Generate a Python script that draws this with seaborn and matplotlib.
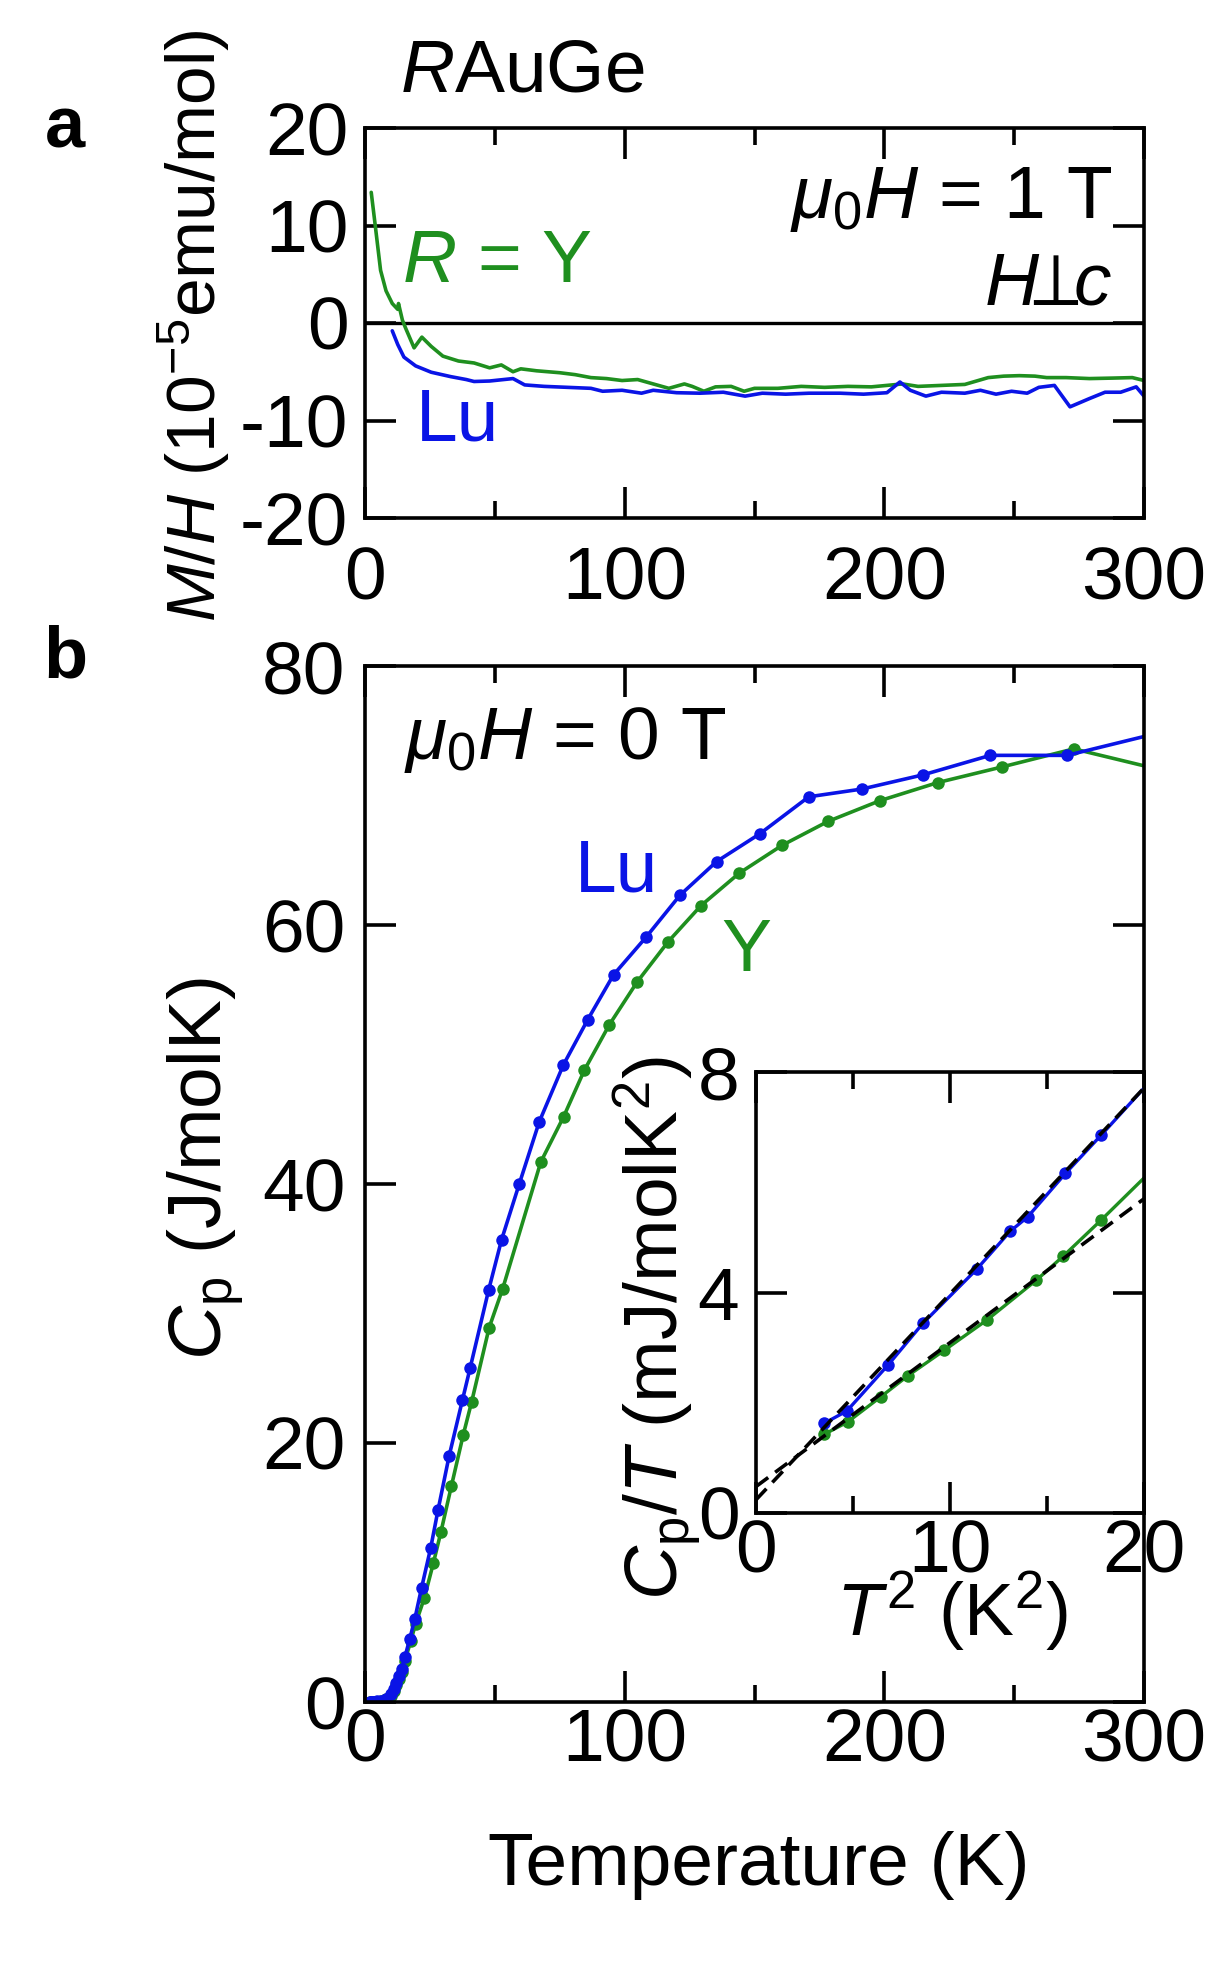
import numpy as np
import pandas as pd
import seaborn as sns
import matplotlib.pyplot as plt
from matplotlib.ticker import MultipleLocator

# ---- panel a : M/H vs T (mu0H = 1 T, H perp c)
y_mh_T = [2.4, 3.9, 6, 8.1, 10.5, 12.6, 12.9, 14.4, 15.6, 18.9, 21.9, 25.5, 30, 36, 42, 48,
          52.5, 57, 60, 66, 75, 81, 87, 93, 99, 105, 111, 117, 123, 126, 130.5, 135, 141,
          146, 150, 159, 168, 177, 186, 195, 201, 207, 213, 222, 231, 235.5, 240, 246, 252,
          258, 262.5, 270, 279, 288, 295.5, 300]
y_mh = [13.4, 10.1, 5.4, 3.3, 2.0, 1.4, 2.0, 0.3, -0.5, -2.55, -1.45, -2.4, -3.4, -3.9, -4.1,
        -4.6, -4.3, -5.0, -4.7, -4.9, -5.1, -5.3, -5.6, -5.7, -5.9, -5.8, -6.25, -6.7, -6.25,
        -6.5, -7.0, -6.55, -6.5, -7.0, -6.7, -6.7, -6.5, -6.6, -6.5, -6.55, -6.4, -6.25, -6.5,
        -6.4, -6.3, -5.95, -5.6, -5.45, -5.4, -5.45, -5.6, -5.6, -5.7, -5.65, -5.6, -5.9]

lu_mh_T = [10.5, 12.6, 15, 19.5, 25.5, 33, 39, 42, 48, 57, 61.5, 69, 78, 87, 91.5, 99, 106.5,
           111, 120, 129, 138, 146.4, 153, 162, 171, 183, 192, 201, 206, 210, 216, 222, 231,
           237, 243, 249, 255, 259.5, 265.5, 271.5, 279, 285, 291, 297, 300]
lu_mh = [-0.8, -2.2, -3.5, -4.4, -5.05, -5.5, -5.8, -6.0, -5.95, -5.7, -6.35, -6.5, -6.6, -6.7,
         -7.0, -6.9, -7.2, -6.9, -7.15, -7.2, -7.1, -7.5, -7.2, -7.3, -7.2, -7.2, -7.3, -7.15,
         -6.05, -6.9, -7.5, -7.1, -7.2, -6.9, -7.3, -7.0, -7.2, -6.6, -6.4, -8.6, -7.75, -7.1,
         -7.1, -6.55, -7.5]

# ---- panel b : Cp vs T (mu0H = 0 T)
lu_cp_T = [1.88, 2.16, 2.61, 2.93, 3.37, 3.62, 3.74, 3.99, 4.22, 4.8, 6.0, 7.9, 9.9, 11.2, 12.1,
           13.1, 14.1, 15.4, 17.2, 19.2, 21.8, 25.3, 28.1, 32.4, 37.5, 40.5, 47.6, 52.6, 59.4,
           67.1, 76.4, 85.8, 95.7, 108.2, 121.3, 135.4, 152.1, 170.9, 191.4, 215, 240.8,
           270.4, 305]
lu_cp = [0.003, 0.004, 0.007, 0.010, 0.015, 0.019, 0.020, 0.025, 0.029, 0.04, 0.08, 0.26, 0.6,
         0.98, 1.5, 2.0, 2.57, 3.5, 4.84, 6.43, 8.83, 11.9, 14.8, 19.0, 23.3, 25.8, 31.8, 35.7,
         40.0, 44.8, 49.2, 52.7, 56.15, 59.05, 62.3, 64.9, 67.05, 69.9, 70.5, 71.6, 73.1,
         73.1, 74.8]

y_cp_T = [1.88, 2.17, 2.54, 2.80, 3.11, 3.45, 3.80, 3.98, 4.22, 6.0, 7.9, 9.9, 11.2, 12.1, 13.1,
          14.1, 15.4, 17.6, 19.5, 22.8, 26.3, 29.2, 33.3, 37.8, 41.1, 47.8, 53.0, 67.7, 76.5,
          84.5, 94.1, 104.8, 116.7, 129.4, 144.1, 160.6, 178.3, 198.3, 220.6, 245.2, 273, 305]
y_cp = [0.0027, 0.0036, 0.0054, 0.007, 0.0092, 0.012, 0.016, 0.0185, 0.0224, 0.07, 0.22, 0.5,
        0.85, 1.3, 1.8, 2.3, 3.2, 4.7, 6.05, 8.0, 10.7, 13.1, 16.7, 20.6, 23.2, 28.9, 31.9,
        41.7, 45.2, 48.8, 52.3, 55.6, 58.7, 61.5, 64.0, 66.15, 68.0, 69.6, 71.0, 72.2, 73.6,
        72.05]

# ---- inset : Cp/T vs T^2
lu_T2 = [3.53, 4.68, 6.82, 8.6, 11.37, 13.1, 14.0, 15.95, 17.78, 20.5]
lu_cpt = [1.63, 1.85, 2.69, 3.44, 4.42, 5.11, 5.37, 6.16, 6.85, 7.9]
y_T2 = [3.53, 4.72, 6.44, 7.83, 9.7, 11.9, 14.44, 15.84, 17.78, 20.5]
y_cpt = [1.43, 1.65, 2.11, 2.49, 2.95, 3.50, 4.22, 4.66, 5.31, 6.25]

fit_T2 = [0, 20]
lu_fit = [0.24, 7.71]
y_fit = [0.48, 5.70]

BLUE = "#0a14e6"
GREEN = "#1f8f1f"
FS = 54

sns.set_style("ticks")
plt.rcParams["font.family"] = ["Liberation Sans", "DejaVu Sans"]
plt.rcParams["mathtext.fontset"] = "custom"
plt.rcParams["mathtext.rm"] = "Liberation Sans"
plt.rcParams["mathtext.it"] = "Liberation Sans:italic"
plt.rcParams["mathtext.bf"] = "Liberation Sans:bold"
plt.rcParams["axes.unicode_minus"] = False
plt.rcParams["text.color"] = "black"
plt.rcParams["axes.linewidth"] = 2.6
plt.rcParams["axes.edgecolor"] = "black"

W, H = 1221, 1962
fig = plt.figure(figsize=(W / 100, H / 100), dpi=100)


def box(l, t, r, b):
    return [l / W, 1 - b / H, (r - l) / W, (b - t) / H]


def fxy(x, y):
    return x / W, 1 - y / H


def style(ax, xpad, ypad):
    ax.tick_params(which="both", direction="in", top=True, right=True,
                   labelsize=FS, width=2.6, color="black", labelcolor="black")
    ax.tick_params(which="major", length=22)
    ax.tick_params(which="minor", length=12)
    ax.tick_params(axis="x", pad=xpad)
    ax.tick_params(axis="y", pad=ypad)
    for s in ax.spines.values():
        s.set_linewidth(2.6)
        s.set_visible(True)
    ax.set_xlabel("")
    ax.set_ylabel("")


# panel a
ax_a = fig.add_axes(box(365, 128, 1144, 518))
ax_a.axhline(0, color="black", lw=2.4, zorder=1)
sns.lineplot(x=y_mh_T, y=y_mh, color=GREEN, lw=2.6, sort=False, ax=ax_a)
sns.lineplot(x=lu_mh_T, y=lu_mh, color=BLUE, lw=2.6, sort=False, ax=ax_a)
ax_a.set_xlim(0, 300)
ax_a.set_ylim(-20, 20)
ax_a.xaxis.set_major_locator(MultipleLocator(100))
ax_a.xaxis.set_minor_locator(MultipleLocator(50))
ax_a.yaxis.set_major_locator(MultipleLocator(10))
style(ax_a, 20, 12)

# panel b
ax_b = fig.add_axes(box(365, 666, 1144, 1702))
sns.lineplot(x=y_cp_T, y=y_cp, color=GREEN, lw=2.6, marker="o", markersize=9,
             markeredgewidth=0, sort=False, ax=ax_b)
sns.lineplot(x=lu_cp_T, y=lu_cp, color=BLUE, lw=2.6, marker="o", markersize=9,
             markeredgewidth=0, sort=False, ax=ax_b)
ax_b.set_xlim(0, 300)
ax_b.set_ylim(0, 80)
ax_b.xaxis.set_major_locator(MultipleLocator(100))
ax_b.xaxis.set_minor_locator(MultipleLocator(50))
ax_b.yaxis.set_major_locator(MultipleLocator(20))
style(ax_b, 4, 14)

# inset
ax_i = fig.add_axes(box(756, 1072, 1144, 1513))
sns.lineplot(x=y_T2, y=y_cpt, color=GREEN, lw=2.4, marker="o", markersize=9,
             markeredgewidth=0, sort=False, ax=ax_i)
sns.lineplot(x=lu_T2, y=lu_cpt, color=BLUE, lw=2.4, marker="o", markersize=9,
             markeredgewidth=0, sort=False, ax=ax_i)
ax_i.plot(fit_T2, lu_fit, color="black", lw=2.6, ls=(0, (4.2, 2.4)))
ax_i.plot(fit_T2, y_fit, color="black", lw=2.6, ls=(0, (4.2, 2.4)))
ax_i.set_xlim(0, 20)
ax_i.set_ylim(0, 8)
ax_i.xaxis.set_major_locator(MultipleLocator(10))
ax_i.xaxis.set_minor_locator(MultipleLocator(5))
ax_i.yaxis.set_major_locator(MultipleLocator(4))
style(ax_i, 4, 12)

# texts
fig.text(*fxy(65, 129), "a", fontsize=FS - 2, fontweight="bold", ha="center", va="center")
fig.text(*fxy(65, 659), "b", fontsize=FS - 2, fontweight="bold", ha="center", va="center")
fig.text(*fxy(400, 72), "$R$AuGe", fontsize=FS, ha="left", va="center")
fig.text(*fxy(1112, 200), r"$\mu_0H$ = 1 T", fontsize=FS, ha="right", va="center")
fig.text(*fxy(1112, 285), r"$H\!\!\perp\!\!c$", fontsize=FS, ha="right", va="center")
fig.text(*fxy(402, 262), "$R$ = Y", fontsize=FS, color=GREEN, ha="left", va="center")
fig.text(*fxy(416, 421), "Lu", fontsize=FS, color=BLUE, ha="left", va="center")
fig.text(*fxy(404, 740), r"$\mu_0H$ = 0 T", fontsize=FS, ha="left", va="center")
fig.text(*fxy(575, 872), "Lu", fontsize=FS, color=BLUE, ha="left", va="center")
fig.text(*fxy(746, 952), "Y", fontsize=FS, color=GREEN, ha="center", va="center")

fig.text(*fxy(194, 326), "$M$/$H$ (10$^{-5}$emu/mol)", fontsize=FS - 4, rotation=90,
         ha="center", va="center")
fig.text(*fxy(206, 1169), "$C_\\mathrm{p}$ (J/molK)", fontsize=FS, rotation=90,
         ha="center", va="center")
fig.text(*fxy(759, 1866), "Temperature (K)", fontsize=FS, ha="center", va="center")
fig.text(*fxy(658, 1328), "$C_\\mathrm{p}$/$T$ (mJ/molK$^2$)", fontsize=FS, rotation=90,
         ha="center", va="center")
fig.text(*fxy(952, 1612), "$T^2$ (K$^2$)", fontsize=FS, ha="center", va="center")

fig.savefig("out.png", dpi=100)
